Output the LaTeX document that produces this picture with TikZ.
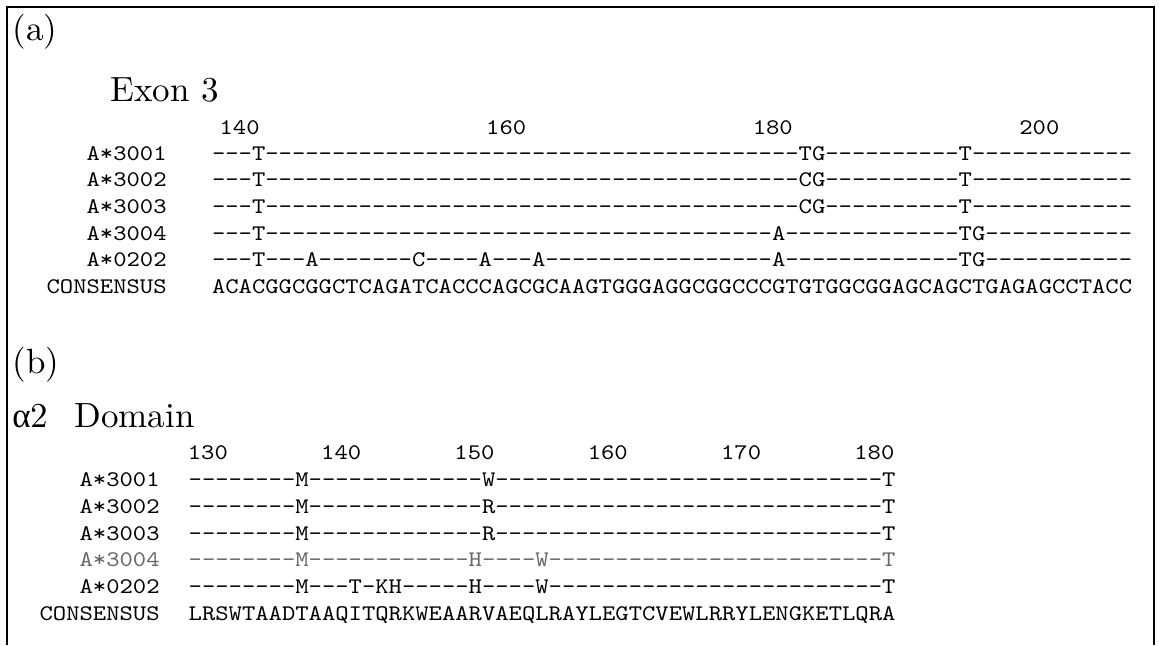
\documentclass[tikz,border=0pt]{standalone}
\usepackage{fontspec}
\setmainfont{lmroman10-regular}[Extension=.otf]
\setmonofont{lmmono10-regular}[Extension=.otf,FakeStretch=1.14]
\newfontfamily\greekfont{Liberation Serif}
\newcommand{\dashrun}[1]{\foreach\k in {1,...,#1}{-}}

\tikzset{
  tag/.style={font=\fontsize{17.5}{21}\selectfont,inner sep=0pt,anchor=base west},
  mono/.style={font=\ttfamily\fontsize{11.14}{13}\selectfont,inner sep=0pt},
  allele/.style={mono,anchor=base east},
  seq/.style={mono,anchor=base west},
  tick/.style={mono,anchor=base},
}

\begin{document}
\begin{tikzpicture}[x=0.5pt,y=-0.5pt]
\useasboundingbox (0,0) rectangle (1159,645);
\draw[line width=0.8pt] (7,645) -- (7,7) -- (1154,7) -- (1154,645);

% (a) exon 3, nucleotides
\node[tag] (parta) at (12,40) {(a)};
\node[tag] (exon) at (110,101) {Exon 3};
\foreach \n/\c in {140/2.1,160/22.1,180/42.1,200/62.1}
  \node[tick] (ra\n) at ({211.6+\c*13.33},134) {\n};
\foreach \name/\row [count=\i from 0] in {
    A*3001/{\dashrun{3}T\dashrun{40}TG\dashrun{10}T\dashrun{12}},
    A*3002/{\dashrun{3}T\dashrun{40}CG\dashrun{10}T\dashrun{12}},
    A*3003/{\dashrun{3}T\dashrun{40}CG\dashrun{10}T\dashrun{12}},
    A*3004/{\dashrun{3}T\dashrun{38}A\dashrun{13}TG\dashrun{11}},
    A*0202/{\dashrun{3}T\dashrun{3}A\dashrun{7}C\dashrun{4}A\dashrun{3}A\dashrun{17}A\dashrun{13}TG\dashrun{11}},
    CONSENSUS/ACACGGCGGCTCAGATCACCCAGCGCAAGTGGGAGGCGGCCCGTGTGGCGGAGCAGCTGAGAGCCTACC} {
  \node[allele] (na\i) at (167,{160+26.7*\i}) {\name};
  \node[seq] (sa\i) at (211.6,{160+26.7*\i}) {\row};
}

% (b) alpha2 domain, residues
\node[tag] (partb) at (12,373) {(b)};
\node[tag] (domain) at (12,427) {{\greekfont α}2\hspace{0.75em}Domain};
\foreach \n/\c in {130/3,140/13,150/23,160/33,170/43,180/53}
  \node[tick,anchor=base east] (rb\n) at ({188.3+\c*13.33},459.7) {\n};
\foreach \name/\row/\tone [count=\i from 0] in {
    A*3001/{\dashrun{8}M\dashrun{13}W\dashrun{29}T}/black,
    A*3002/{\dashrun{8}M\dashrun{13}R\dashrun{29}T}/black,
    A*3003/{\dashrun{8}M\dashrun{13}R\dashrun{29}T}/black,
    A*3004/{\dashrun{8}M\dashrun{12}H\dashrun{4}W\dashrun{25}T}/black!60,
    A*0202/{\dashrun{8}M\dashrun{3}T\dashrun{1}KH\dashrun{5}H\dashrun{4}W\dashrun{25}T}/black,
    CONSENSUS/LRSWTAADTAAQITQRKWEAARVAEQLRAYLEGTCVEWLRRYLENGKETLQRA/black} {
  \node[allele,text=\tone] (nb\i) at (160,{486.7+26.7*\i}) {\name};
  \node[seq,text=\tone] (sb\i) at (188.3,{486.7+26.7*\i}) {\row};
}
\end{tikzpicture}
\end{document}
